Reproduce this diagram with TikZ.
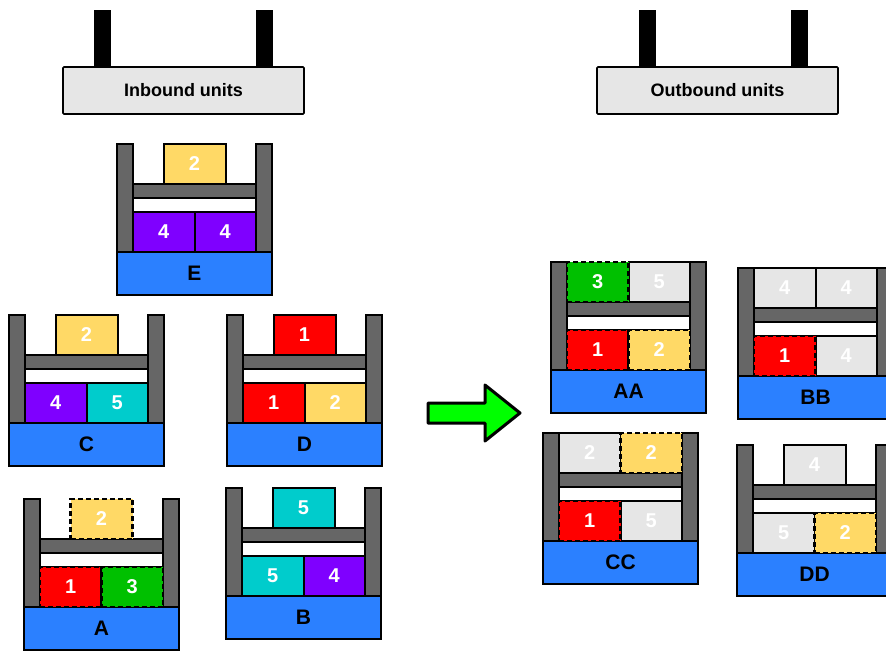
\documentclass[tikz,border=0pt]{standalone}
\usepackage{fontspec}
\setmainfont{Liberation Sans}
\definecolor{cblue}{HTML}{2B80FF}
\definecolor{cyel}{HTML}{FFD966}
\definecolor{cpur}{HTML}{7F00FF}
\definecolor{cteal}{HTML}{00CCCC}
\definecolor{cred}{HTML}{FF0000}
\definecolor{cgreen}{HTML}{00C000}
\definecolor{clgray}{HTML}{E6E6E6}
\definecolor{cdgray}{HTML}{666666}
\definecolor{carrow}{HTML}{00FF00}
\tikzset{
  frame/.style={draw=black, line width=2pt, inner sep=0pt, outer sep=0pt},
  post/.style={frame, fill=cdgray, minimum width=16pt, minimum height=108pt},
  shelf/.style={frame, fill=cdgray, minimum width=123pt, minimum height=14pt},
  band/.style={frame, fill=white, minimum width=123pt, minimum height=14pt},
  basebox/.style={frame, fill=cblue, minimum width=155pt, minimum height=43pt,
    font=\bfseries\fontsize{21}{21}\selectfont, text=black},
  unit/.style={frame, minimum width=61.5pt, minimum height=40pt,
    font=\bfseries\fontsize{20}{20}\selectfont, text=white},
  wide/.style={minimum width=62pt},
  dashedbox/.style={line width=2.4pt, dash pattern=on 5pt off 3pt},
  Y/.style={fill=cyel}, P/.style={fill=cpur}, T/.style={fill=cteal},
  R/.style={fill=cred}, G/.style={fill=cgreen}, L/.style={fill=clgray},
  header/.style={draw=black, line width=1.6pt, fill=clgray, rounded corners=1pt,
    minimum width=241pt, minimum height=47pt, inner sep=0pt,
    font=\bfseries\fontsize{18}{18}\selectfont},
  leg/.style={fill=black, inner sep=0pt, minimum width=17pt, minimum height=57pt},
}
\newcommand\cartframe[2]{%
  \node[post] (#1pl) at (8,54) {};
  \node[post] (#1pr) at (147,54) {};
  \node[basebox] (#1base) at (77.5,129.5) {#2};
  \node[shelf] (#1sh) at (77.5,47) {};
  \node[band] (#1bd) at (77.5,61) {};
}
\newcommand\topc[3]{\node[unit,wide,#2] (#1) at (77.5,20) {#3};}
\newcommand\topl[3]{\node[unit,#2] (#1) at (46.75,20) {#3};}
\newcommand\topr[3]{\node[unit,#2] (#1) at (108.25,20) {#3};}
\newcommand\botl[3]{\node[unit,#2] (#1) at (46.75,88) {#3};}
\newcommand\botr[3]{\node[unit,#2] (#1) at (108.25,88) {#3};}
\begin{document}
\begin{tikzpicture}[x=1pt,y=-1pt]
\clip (0,0) rectangle (886,651);
\fill[white] (0,0) rectangle (886,651);
% headers
\node[leg] (inlegA) at (102,38.5) {};
\node[leg] (inlegB) at (264.5,38.5) {};
\node[header] (inbound) at (183.5,90.5) {Inbound units};
\node[leg] (outlegA) at (647.5,38.5) {};
\node[leg] (outlegB) at (799,38.5) {};
\node[header] (outbound) at (717.5,90.5) {Outbound units};
% arrow
\draw[line width=3pt, line join=round, fill=carrow]
  (428,403) -- (485,403) -- (485,385) -- (520,413) -- (485,441) -- (485,423) -- (428,423) -- cycle;
% inbound carts
\begin{scope}[shift={(117,144)}]
  \cartframe{E}{E}
  \topc{E1}{Y}{2}\botl{E2}{P}{4}\botr{E3}{P}{4}
\end{scope}
\begin{scope}[shift={(9,315)}]
  \cartframe{C}{C}
  \topc{C1}{Y}{2}\botl{C2}{P}{4}\botr{C3}{T}{5}
\end{scope}
\begin{scope}[shift={(227,315)}]
  \cartframe{D}{D}
  \topc{D1}{R}{1}\botl{D2}{R}{1}\botr{D3}{Y}{2}
\end{scope}
\begin{scope}[shift={(24,499)}]
  \cartframe{A}{A}
  \topc{A1}{Y,dashedbox}{2}\botl{A2}{R,dashedbox}{1}\botr{A3}{G,dashedbox}{3}
\end{scope}
\begin{scope}[shift={(226,488)}]
  \cartframe{B}{B}
  \topc{B1}{T}{5}\botl{B2}{T}{5}\botr{B3}{P}{4}
\end{scope}
% outbound carts
\begin{scope}[shift={(551,262)}]
  \cartframe{AA}{AA}
  \topr{AA2}{L}{5}\topl{AA1}{G,dashedbox}{3}
  \botl{AA3}{R,dashedbox}{1}\botr{AA4}{Y,dashedbox}{2}
\end{scope}
\begin{scope}[shift={(738,268)}]
  \cartframe{BB}{BB}
  \topl{BB1}{L}{4}\topr{BB2}{L}{4}
  \botr{BB4}{L}{4}\botl{BB3}{R,dashedbox}{1}
\end{scope}
\begin{scope}[shift={(543,433)}]
  \cartframe{CC}{CC}
  \topl{CC1}{L}{2}\topr{CC2}{Y,dashedbox}{2}
  \botr{CC4}{L}{5}\botl{CC3}{R,dashedbox}{1}
\end{scope}
\begin{scope}[shift={(737,445)}]
  \cartframe{DD}{DD}
  \topc{DD1}{L}{4}
  \botl{DD2}{L}{5}\botr{DD3}{Y,dashedbox}{2}
\end{scope}
\end{tikzpicture}
\end{document}
